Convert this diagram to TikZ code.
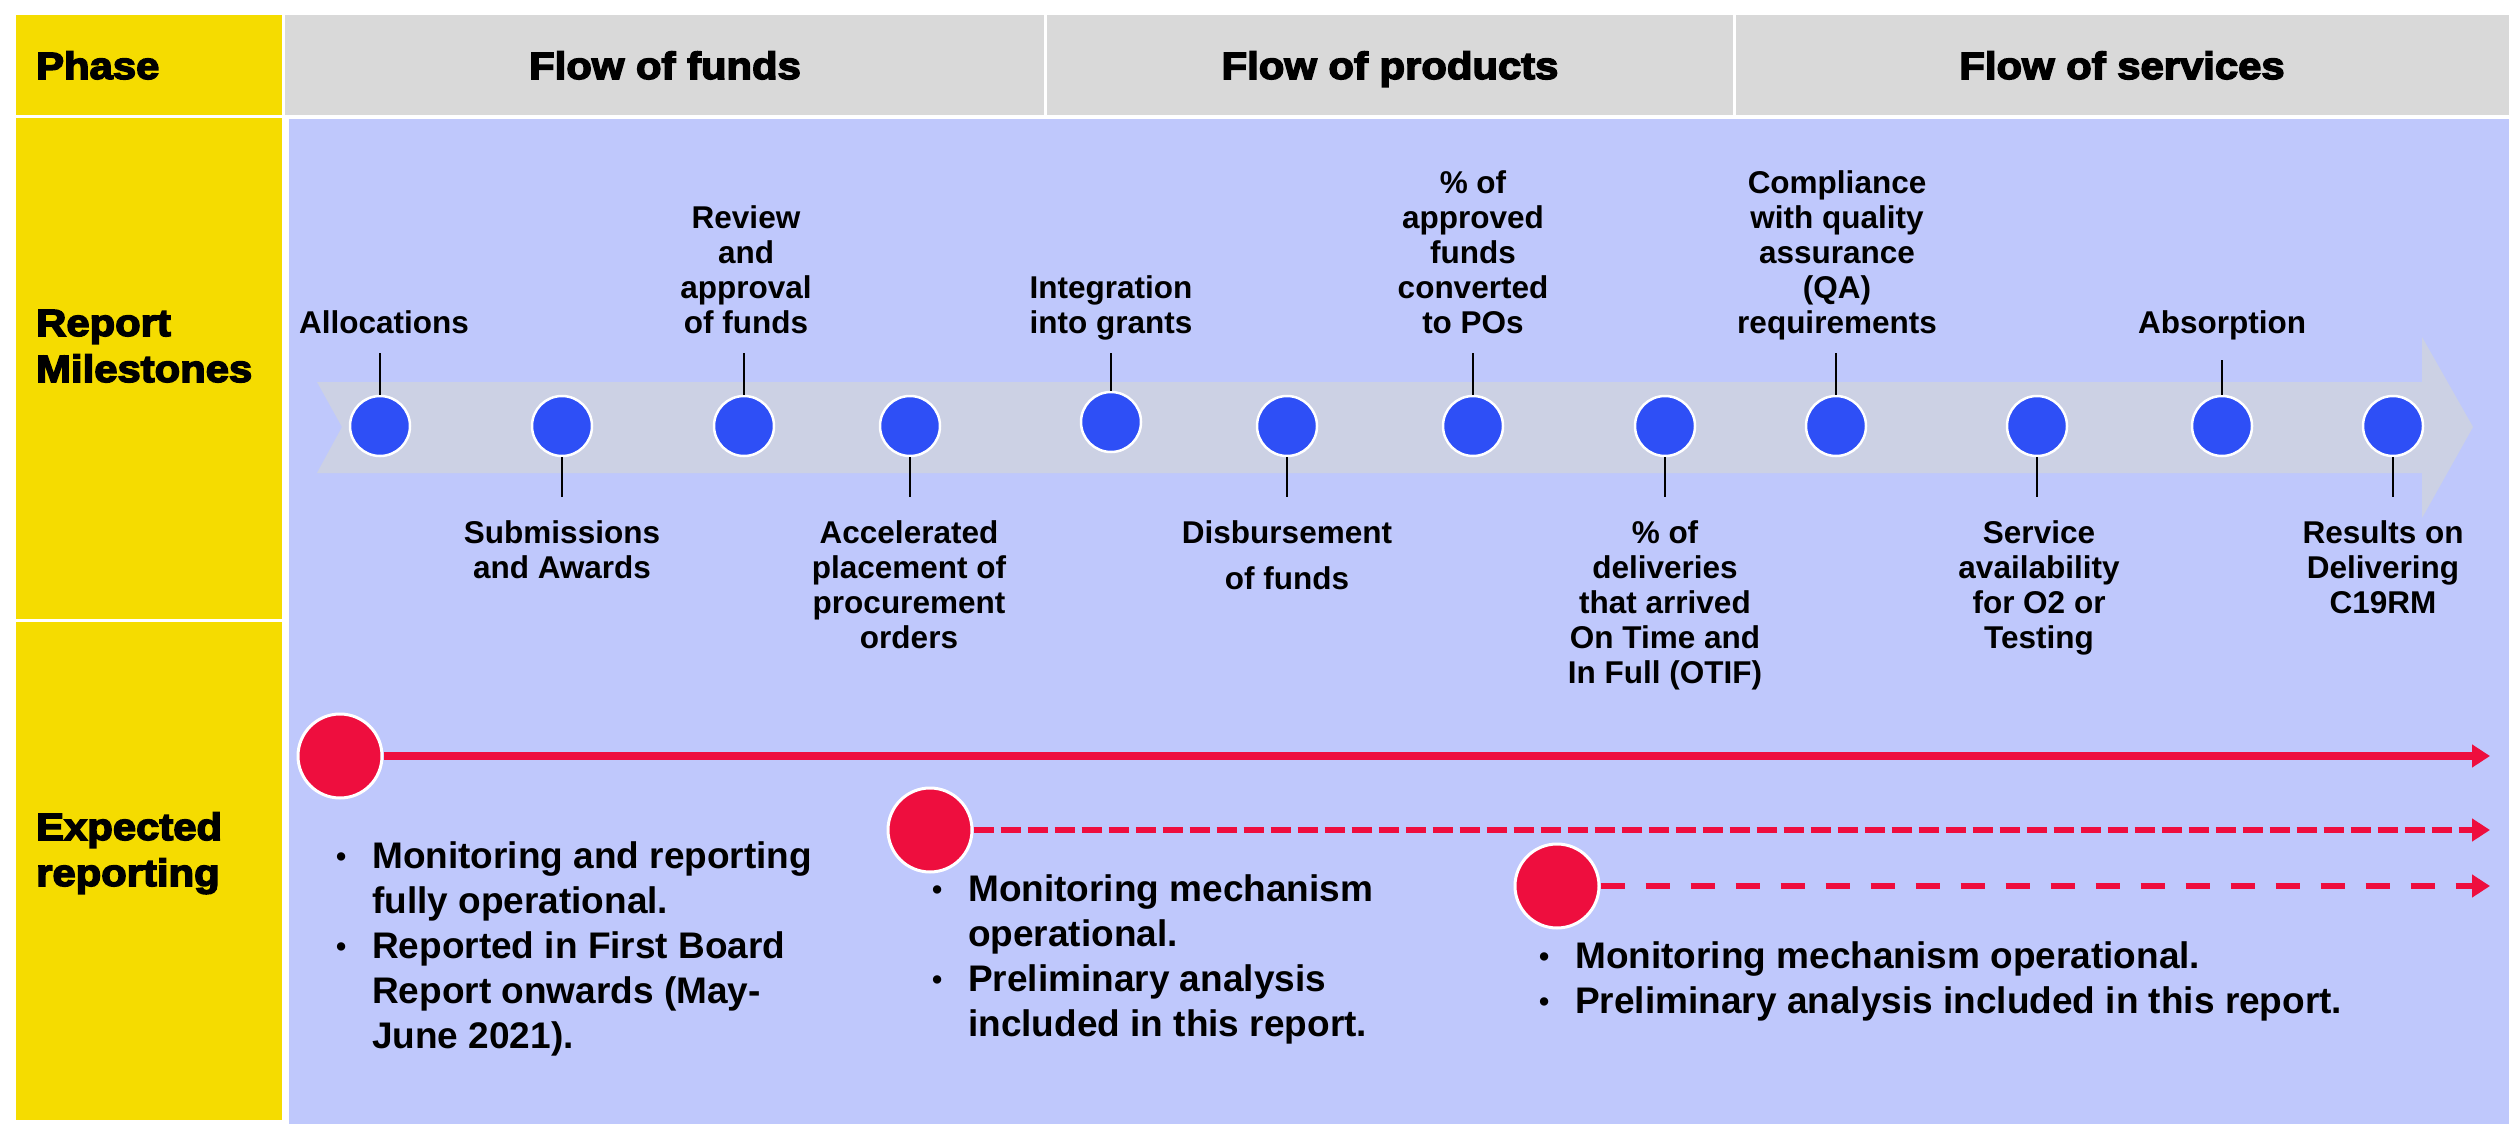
\documentclass[tikz,border=0pt]{standalone}
\usepackage{fontspec}
\setmainfont{Liberation Sans}
\newfontfamily\blackfont[FakeBold=4,FakeStretch=1.1]{Liberation Sans Bold}
\usetikzlibrary{arrows.meta}
\definecolor{bgblue}{RGB}{191,200,252}
\definecolor{band}{RGB}{204,209,228}
\definecolor{ylw}{RGB}{245,220,0}
\definecolor{hgray}{RGB}{217,217,217}
\definecolor{mblue}{RGB}{46,79,246}
\definecolor{rred}{RGB}{238,14,62}
\newcommand\labup[1]{\begin{tabular}[b]{@{}c@{}}#1\end{tabular}}
\newcommand\labdn[1]{\begin{tabular}[t]{@{}c@{}}#1\end{tabular}}
\newcommand\bl{\makebox[37pt][l]{\hspace{1pt}\raisebox{2pt}{\fontsize{29}{29}\selectfont •}}}
\begin{document}
\begin{tikzpicture}[x=1pt,y=-1pt,
  hdr/.style={font=\blackfont\fontsize{38}{46}\selectfont, inner sep=0, anchor=base},
  rowhdr/.style={font=\blackfont\fontsize{38}{46}\selectfont, inner sep=0, anchor=base west},
  mile/.style={circle, fill=mblue, draw=white, line width=2.5pt, minimum size=60pt, inner sep=0},
  lbl/.style={font=\bfseries\fontsize{31.5}{35}\selectfont, inner sep=0, anchor=base},
  tick/.style={line width=2pt, black},
  rdot/.style={circle, fill=rred, draw=white, line width=3pt, minimum size=84pt, inner sep=0},
  rline/.style={rred, line width=7.5pt, -{Triangle[length=18pt,width=22pt]}},
  blt/.style={font=\bfseries\fontsize{37}{45}\selectfont, inner sep=0, anchor=base west}]
\useasboundingbox (0,0) rectangle (2509,1124);
\fill[white] (0,0) rectangle (2509,1124);
% header row
\fill[ylw] (16,15) rectangle (282,115);
\fill[hgray] (285,15) rectangle (1044,115);
\fill[hgray] (1047,15) rectangle (1733,115);
\fill[hgray] (1736,15) rectangle (2509,115);
% left column
\fill[ylw] (16,118) rectangle (282,619);
\fill[ylw] (16,622) rectangle (282,1120);
% body
\fill[bgblue] (289,119) rectangle (2509,1124);
% big gray arrow band
\fill[band] (317,382) -- (2422,382) -- (2422,337) -- (2473,427) -- (2422,518)
  -- (2422,473) -- (317,473) -- (342,427) -- cycle;
% header texts
\node[rowhdr] (hphase) at (36,79) {Phase};
\node[hdr] (hfunds) at (665,79) {Flow of funds};
\node[hdr] (hprod) at (1390,79) {Flow of products};
\node[hdr] (hserv) at (2122,79) {Flow of services};
\node[rowhdr] (hrm) at (36,336) {\begin{tabular}[t]{@{}l@{}}Report\\Milestones\end{tabular}};
\node[rowhdr] (her) at (36,840) {\begin{tabular}[t]{@{}l@{}}Expected\\reporting\end{tabular}};
% tick reference coordinates
\coordinate (ut) at (0,353);
\coordinate (ut2) at (0,360);
\coordinate (dt) at (0,497);
% milestones
\node[mile] (m1) at (380,426) {};
\node[mile] (m2) at (562,426) {};
\node[mile] (m3) at (744,426) {};
\node[mile] (m4) at (910,426) {};
\node[mile] (m5) at (1111,422) {};
\node[mile] (m6) at (1287,426) {};
\node[mile] (m7) at (1473,426) {};
\node[mile] (m8) at (1665,426) {};
\node[mile] (m9) at (1836,426) {};
\node[mile] (m10) at (2037,426) {};
\node[mile] (m11) at (2222,426) {};
\node[mile] (m12) at (2393,426) {};
% ticks
\draw[tick] (m1.north) -- (m1.north |- ut);
\draw[tick] (m3.north) -- (m3.north |- ut);
\draw[tick] (m5.north) -- (m5.north |- ut);
\draw[tick] (m7.north) -- (m7.north |- ut);
\draw[tick] (m9.north) -- (m9.north |- ut);
\draw[tick] (m11.north) -- (m11.north |- ut2);
\draw[tick] (m2.south) -- (m2.south |- dt);
\draw[tick] (m4.south) -- (m4.south |- dt);
\draw[tick] (m6.south) -- (m6.south |- dt);
\draw[tick] (m8.south) -- (m8.south |- dt);
\draw[tick] (m10.south) -- (m10.south |- dt);
\draw[tick] (m12.south) -- (m12.south |- dt);
% labels above
\node[lbl] (l1) at (384,333) {\labup{Allocations}};
\node[lbl] (l3) at (746,333) {\labup{Review\\and\\approval\\of funds}};
\node[lbl] (l5) at (1111,333) {\labup{Integration\\into grants}};
\node[lbl] (l7) at (1473,333) {\labup{\% of\\approved\\funds\\converted\\to POs}};
\node[lbl] (l9) at (1837,333) {\labup{Compliance\\with quality\\assurance\\(QA)\\requirements}};
\node[lbl] (l11) at (2222,333) {\labup{Absorption}};
% labels below
\node[lbl] (l2) at (562,543) {\labdn{Submissions\\and Awards}};
\node[lbl] (l4) at (909,543) {\labdn{Accelerated\\placement of\\procurement\\orders}};
\node[lbl] (l6) at (1287,543) {\labdn{Disbursement\\[11pt]of funds}};
\node[lbl] (l8) at (1665,543) {\labdn{\% of\\deliveries\\that arrived\\On Time and\\In Full (OTIF)}};
\node[lbl] (l10) at (2039,543) {\labdn{Service\\availability\\for O2 or\\Testing}};
\node[lbl] (l12) at (2383,543) {\labdn{Results on\\Delivering\\C19RM}};
% expected reporting
\coordinate (e1) at (2490,756);
\coordinate (e2) at (2490,830);
\coordinate (e3) at (2490,886);
\node[rdot] (r1) at (340,756) {};
\node[rdot] (r2) at (930,830) {};
\node[rdot] (r3) at (1557,886) {};
\draw[rline] (r1.east) -- (e1);
\draw[rline, line width=6.5pt, dash pattern=on 20pt off 7pt] (r2.east) -- (e2);
\draw[rline, line width=6.5pt, dash pattern=on 24pt off 21pt] (r3.east) -- (e3);
\node[blt] (b1) at (335,868) {\begin{tabular}[t]{@{}l@{}l@{}}\bl&Monitoring and reporting\\&fully operational.\\\bl&Reported in First Board\\&Report onwards (May-\\&June 2021).\end{tabular}};
\node[blt] (b2) at (931,901) {\begin{tabular}[t]{@{}l@{}l@{}}\bl&Monitoring mechanism\\&operational.\\\bl&Preliminary analysis\\&included in this report.\end{tabular}};
\node[blt] (b3) at (1538,968) {\begin{tabular}[t]{@{}l@{}l@{}}\bl&Monitoring mechanism operational.\\\bl&Preliminary analysis included in this report.\end{tabular}};
\end{tikzpicture}
\end{document}
